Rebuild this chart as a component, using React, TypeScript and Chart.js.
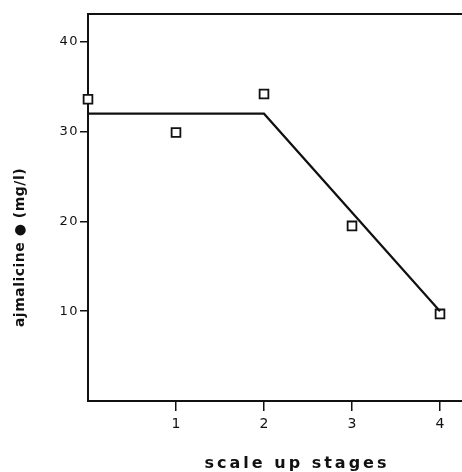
import React, { useEffect, useRef } from "react";
import { Chart, registerables } from "chart.js";

Chart.register(...registerables);

// ---- data ----
const stages = [0, 1, 2, 3, 4];
const measured = [33.6, 29.9, 34.2, 19.5, 9.7];
const trendX = [0, 2, 4];
const trendY = [32, 32, 10];
const xTickValues = [1, 2, 3, 4];
const yTickValues = [10, 20, 30, 40];
const xTitle = "scale up stages";
const yTitle = "ajmalicine ● (mg/l)";

const INK = "#111111";
const FONT = "'DejaVu Sans', sans-serif";

const framePlugin = {
  id: "frameTop",
  afterDraw(chart: any) {
    const { ctx, chartArea } = chart;
    ctx.save();
    ctx.strokeStyle = INK;
    ctx.lineWidth = 2;
    ctx.beginPath();
    ctx.moveTo(chartArea.left - 1, chartArea.top);
    ctx.lineTo(chartArea.right, chartArea.top);
    ctx.stroke();
    ctx.restore();
  },
};

const textStylePlugin = {
  id: "textStyle",
  beforeDraw(chart: any) {
    const adj: any = {
      x: { dx: 22, dy: 0, titleLs: "3px", labelLs: "0px" },
      y: { dx: 0, dy: 40, titleLs: "0.5px", labelLs: "1.5px" },
    };
    for (const id of ["x", "y"]) {
      const s: any = chart.scales[id];
      if (!s || s.__styled) continue;
      s.__styled = true;
      const a = adj[id];
      const origTitle = s.drawTitle.bind(s);
      const origLabels = s.drawLabels.bind(s);
      s.drawTitle = (...args: any[]) => {
        const ctx = chart.ctx;
        ctx.save();
        ctx.translate(a.dx, a.dy);
        ctx.letterSpacing = a.titleLs;
        origTitle(...args);
        ctx.restore();
      };
      s.drawLabels = (...args: any[]) => {
        const ctx = chart.ctx;
        ctx.save();
        ctx.letterSpacing = a.labelLs;
        origLabels(...args);
        ctx.restore();
      };
    }
  },
};

export default function App() {
  const ref = useRef<HTMLCanvasElement | null>(null);

  useEffect(() => {
    document.body.style.margin = "0";
    const canvas = ref.current;
    if (!canvas) return;
    const chart = new Chart(canvas, {
      type: "scatter",
      data: {
        datasets: [
          {
            type: "line",
            data: trendX.map((x, i) => ({ x, y: trendY[i] })),
            borderColor: INK,
            borderWidth: 2.2,
            pointRadius: 0,
            fill: false,
            tension: 0,
            clip: false,
          } as any,
          {
            data: stages.map((x, i) => ({ x, y: measured[i] })),
            pointStyle: "rect",
            pointRadius: 6.2,
            pointBorderWidth: 1.8,
            pointBorderColor: INK,
            pointBackgroundColor: "#ffffff",
            clip: false,
          } as any,
        ],
      },
      options: {
        responsive: false,
        animation: false,
        devicePixelRatio: 1,
        layout: {
          autoPadding: false,
          padding: { top: 14, right: 0, left: 0, bottom: 0 },
        },
        plugins: { legend: { display: false }, tooltip: { enabled: false } },
        scales: {
          x: {
            type: "linear",
            min: 0,
            max: 4.25,
            afterBuildTicks: (s: any) => {
              s.ticks = xTickValues.map((v) => ({ value: v }));
            },
            afterFit: (s: any) => {
              s.height = 71;
              s.paddingLeft = 0;
              s.paddingRight = 0;
            },
            grid: {
              display: true,
              drawOnChartArea: false,
              drawTicks: true,
              tickLength: 10,
              color: INK,
              lineWidth: 1.5,
            },
            border: { display: true, color: INK, width: 2 },
            ticks: {
              color: INK,
              padding: 5,
              font: { family: FONT, size: 14 },
              maxRotation: 0,
            },
            title: {
              display: true,
              text: xTitle,
              color: INK,
              padding: { top: 0, bottom: 0 },
              font: { family: FONT, size: 16, weight: "bold", lineHeight: 1 },
            },
          },
          y: {
            type: "linear",
            min: 0,
            max: 43.1,
            afterBuildTicks: (s: any) => {
              s.ticks = yTickValues.map((v) => ({ value: v }));
            },
            afterFit: (s: any) => {
              s.width = 88;
              s.paddingTop = 0;
              s.paddingBottom = 0;
            },
            grid: {
              display: true,
              drawOnChartArea: false,
              drawTicks: true,
              tickLength: 8,
              color: INK,
              lineWidth: 1.5,
            },
            border: { display: true, color: INK, width: 2 },
            ticks: {
              color: INK,
              padding: 1,
              font: { family: FONT, size: 13 },
            },
            title: {
              display: true,
              text: yTitle,
              color: INK,
              padding: { top: 13, bottom: 0 },
              font: { family: FONT, size: 14, weight: "bold", lineHeight: 1 },
            },
          },
        },
      },
      plugins: [framePlugin, textStylePlugin],
    } as any);
    return () => chart.destroy();
  }, []);

  return (
    <canvas
      ref={ref}
      width={462}
      height={472}
      style={{ display: "block", width: 462, height: 472 }}
    />
  );
}
